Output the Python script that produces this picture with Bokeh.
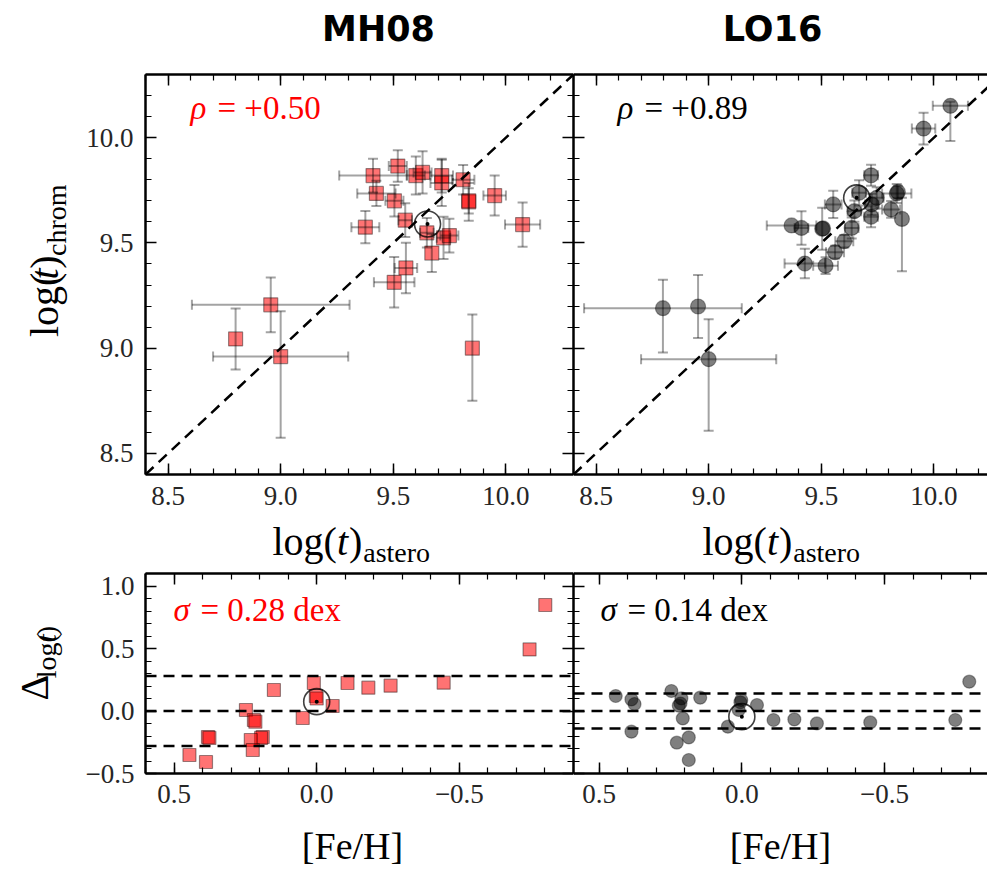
import math
from bokeh.plotting import figure
from bokeh.layouts import column, row
from bokeh.models import (Range1d, LinearAxis, SingleIntervalTicker, Label, Whisker, TeeHead,
                          ColumnDataSource, Slope, Span, CustomJSTickFormatter)
from bokeh.embed import file_html
from bokeh.resources import INLINE

# ---------------- data ----------------
panel_titles = ["MH08", "LO16"]
rho_texts = ["= +0.50", "= +0.89"]
sigma_values = [0.28, 0.14]

# MH08: chromospheric age vs asteroseismic age
mh08_astero = [9.41, 9.52, 9.60, 9.63, 9.715, 9.715, 9.81, 9.425, 9.505, 9.835, 9.835, 9.95,
               9.553, 9.376, 10.074, 9.649, 9.723, 9.749, 9.671, 9.556, 9.504, 8.956, 8.80,
               9.0, 9.851]
mh08_chrom = [9.82, 9.865, 9.82, 9.835, 9.82, 9.785, 9.80, 9.735, 9.70, 9.695, 9.70, 9.725,
              9.608, 9.575, 9.587, 9.548, 9.524, 9.535, 9.452, 9.381, 9.313, 9.206, 9.044,
              8.96, 9.0]
mh08_xerr = [0.15, 0.04, 0.04, 0.04, 0.05, 0.05, 0.05, 0.085, 0.04, 0.0, 0.0, 0.05,
             0.03, 0.062, 0.078, 0.03, 0.03, 0.04, 0.0, 0.05, 0.09, 0.35, 0.0,
             0.30, 0.0]
mh08_yerr_hi = [0.08, 0.075, 0.09, 0.10, 0.08, 0.11, 0.07, 0.06, 0.075, 0.09, 0.06, 0.095,
                0.08, 0.077, 0.105, 0.07, 0.10, 0.08, 0.09, 0.12, 0.12, 0.13, 0.145,
                0.215, 0.16]
mh08_yerr_lo = [0.08, 0.075, 0.09, 0.10, 0.08, 0.11, 0.07, 0.06, 0.075, 0.09, 0.06, 0.095,
                0.08, 0.077, 0.105, 0.07, 0.10, 0.08, 0.09, 0.12, 0.12, 0.13, 0.145,
                0.385, 0.25]

# LO16
lo16_astero = [10.073, 9.954, 9.721, 9.668, 9.746, 9.835, 9.84, 9.553, 9.724, 9.647, 9.810,
               9.858, 9.721, 9.368, 9.412, 9.504, 9.508, 9.635, 9.602, 9.561, 9.427, 9.519,
               8.797, 8.953, 9.0]
lo16_chrom = [10.151, 10.043, 9.821, 9.738, 9.714, 9.735, 9.742, 9.683, 9.683, 9.651, 9.659,
              9.614, 9.624, 9.583, 9.571, 9.567, 9.569, 9.571, 9.508, 9.456, 9.402, 9.392,
              9.190, 9.198, 8.948]
lo16_xerr = [0.078, 0.052, 0.03, 0.03, 0.03, 0.065, 0.0, 0.037, 0.03, 0.03, 0.04,
             0.0, 0.03, 0.11, 0.03, 0.0, 0.0, 0.03, 0.04, 0.04, 0.09, 0.055,
             0.35, 0.0, 0.30]
lo16_yerr_hi = [0.02, 0.075, 0.05, 0.06, 0.05, 0.045, 0.03, 0.065, 0.05, 0.05, 0.04,
                0.10, 0.05, 0.0, 0.08, 0.10, 0.0, 0.05, 0.03, 0.03, 0.07, 0.04,
                0.135, 0.15, 0.19]
lo16_yerr_lo = [0.167, 0.075, 0.05, 0.06, 0.05, 0.045, 0.03, 0.065, 0.05, 0.05, 0.04,
                0.249, 0.05, 0.0, 0.08, 0.10, 0.0, 0.05, 0.03, 0.03, 0.07, 0.04,
                0.21, 0.15, 0.34]

# residuals vs metallicity
mh08_feh = [-0.801, -0.746, -0.445, -0.259, -0.181, -0.108, 0.150, 0.010, 0.003, 0.0, -0.056,
            0.049, 0.248, 0.220, 0.215, 0.189, 0.195, 0.231, 0.224, 0.381, 0.376, 0.388, 0.446]
mh08_delta = [0.848, 0.493, 0.227, 0.203, 0.187, 0.224, 0.168, 0.224, 0.12, 0.10, 0.04,
              -0.056, 0.008, -0.072, -0.085, -0.208, -0.215, -0.232, -0.312, -0.208, -0.215,
              -0.408, -0.352]
lo16_feh = [-0.797, -0.748, -0.450, -0.263, -0.184, -0.111, -0.053, 0.002, 0.005, 0.011, 0.049,
            0.146, 0.247, 0.212, 0.221, 0.215, 0.207, 0.186, 0.228, 0.186, 0.387, 0.387, 0.376,
            0.442]
lo16_delta = [0.235, -0.072, -0.091, -0.099, -0.067, -0.072, 0.048, 0.088, 0.07, 0.008, -0.125,
              0.107, 0.16, 0.101, 0.043, 0.06, -0.059, -0.211, -0.253, -0.392, -0.165, 0.093,
              0.056, 0.12]

# the Sun
sun_astero = [9.652, 9.657]
sun_chrom = [9.59, 9.714]
sun_feh = [0.0, 0.0]
sun_delta = [0.075, -0.045]

# ---------------- styling helpers ----------------
SERIF = "Liberation Serif"
TICK_COLOR = "#262626"
RED = "#ff0000"
R = math.pi / 2
BASE_SHIFT = 0.27   # compensation (in em) so the glyph baseline lands on the requested position
# advance widths (em) of Liberation Serif glyphs used to chain text pieces
ADV = {"log(": 1.611, "t": 0.30, ")": 0.333, "\u0394": 0.612}


def to_data(g, px, py):
    x0, x1 = g["xr"]
    y0, y1 = g["yr"]
    return (x0 + (x1 - x0) * (px - g["fl"]) / g["fw"],
            y0 + (y1 - y0) * (g["fb"] - py) / g["fh"])


def label(p, g, px, py, text, size, color="black", font=SERIF, style="normal",
          align="left", angle=0.0):
    if angle == 0.0:
        py = py - BASE_SHIFT * size
    else:
        px = px - BASE_SHIFT * size
    x, y = to_data(g, px, py)
    p.add_layout(Label(x=x, y=y, text=text, text_font=font, text_font_size=f"{size}px",
                       text_font_style=style, text_color=color, text_align=align,
                       text_baseline="alphabetic", angle=angle))


def make_fig(g, bl, br, bt, bb, sides, labeled_left, label_std):
    p = figure(x_range=Range1d(*g["xr"]), y_range=Range1d(*g["yr"]),
               frame_width=g["fw"], frame_height=g["fh"],
               min_border_left=bl, min_border_right=br, min_border_top=bt, min_border_bottom=bb,
               output_backend="svg", toolbar_location=None,
               x_axis_location=None, y_axis_location=None,
               background_fill_color="white", border_fill_color="white")
    p.outline_line_color = None
    for gr in p.grid:
        gr.visible = False
    for side in sides:
        ax = LinearAxis(ticker=SingleIntervalTicker(interval=0.5, num_minor_ticks=5))
        show = side == "below" or (side == "left" and labeled_left)
        ax.axis_line_color = "black"
        ax.axis_line_width = 2.5
        ax.major_tick_in = 11
        ax.major_tick_out = 0
        ax.minor_tick_in = 6
        ax.minor_tick_out = 0
        ax.major_tick_line_width = 1.5
        ax.minor_tick_line_width = 1.2
        ax.major_tick_line_color = "black"
        ax.minor_tick_line_color = "black"
        if show:
            ax.formatter = CustomJSTickFormatter(
                code="const v = Math.abs(tick) < 1e-9 ? 0 : tick; return v.toFixed(1).replace('-', '\\u2212');")
            ax.major_label_text_font = SERIF
            ax.major_label_text_font_size = "27px"
            ax.major_label_text_color = TICK_COLOR
            ax.major_label_standoff = label_std
        else:
            ax.formatter = CustomJSTickFormatter(code="return '';")
            ax.major_label_text_font_size = "0px"
            ax.major_label_standoff = 0
        p.add_layout(ax, side)
    return p


def strip(w, h, top):
    """A text-only strip; data units are pixels, y measured upwards from its bottom."""
    p = figure(width=w, height=h, x_range=Range1d(0, w), y_range=Range1d(0, h),
               min_border_left=0, min_border_right=0, min_border_top=0, min_border_bottom=0,
               output_backend="svg", toolbar_location=None,
               x_axis_location=None, y_axis_location=None,
               background_fill_color="white", border_fill_color="white")
    p.outline_line_color = None
    for gr in p.grid:
        gr.visible = False
    g = dict(xr=(0, w), yr=(0, h), fw=w, fh=h, fl=0, fb=top + h)
    return p, g


def add_errbars(p, x, y, xerr, yhi, ylo):
    bar = dict(line_color="black", line_alpha=0.36, line_width=2)
    iy = [i for i in range(len(x)) if yhi[i] > 0 or ylo[i] > 0]
    src_y = ColumnDataSource(dict(base=[x[i] for i in iy],
                                  lower=[y[i] - ylo[i] for i in iy],
                                  upper=[y[i] + yhi[i] for i in iy]))
    p.add_layout(Whisker(source=src_y, base="base", lower="lower", upper="upper",
                         dimension="height", level="glyph",
                         upper_head=TeeHead(size=10, **bar), lower_head=TeeHead(size=10, **bar),
                         **bar))
    ix = [i for i in range(len(x)) if xerr[i] > 0]
    src_x = ColumnDataSource(dict(base=[y[i] for i in ix],
                                  lower=[x[i] - xerr[i] for i in ix],
                                  upper=[x[i] + xerr[i] for i in ix]))
    p.add_layout(Whisker(source=src_x, base="base", lower="lower", upper="upper",
                         dimension="width", level="glyph",
                         upper_head=TeeHead(size=10, **bar), lower_head=TeeHead(size=10, **bar),
                         **bar))


def add_sun(p, x, y):
    p.scatter(x=[x], y=[y], marker="circle", size=26, fill_color=None,
              line_color="black", line_width=1.6, line_alpha=0.75)
    p.scatter(x=[x], y=[y], marker="circle", size=4, fill_color="black", line_color=None)


DASH = dict(line_color="black", line_width=2.5, line_dash="11 7")

# ---------------- geometry (page coordinates) ----------------
W_TOTAL = 987
W_YLAB = 75
TOP_T = 70          # title strip height
ROW2_TOP = TOP_T
ROW2_H = 448        # 4 + 400 + 44
XLAB_TOP = ROW2_TOP + ROW2_H   # 518
XLAB_H = 50
ROW4_TOP = XLAB_TOP + XLAB_H   # 568
ROW4_H = 249        # 5 + 200 + 44
FEH_TOP = ROW4_TOP + ROW4_H    # 817
FEH_H = 51

FW_L = 428
FW_R = W_TOTAL - W_YLAB - (145 - W_YLAB) - FW_L   # 414

g_tl = dict(xr=(8.4, 10.3), yr=(8.4, 10.3), fw=FW_L, fh=400, fl=145, fb=474)
g_tr = dict(xr=(8.4, 8.4 + FW_R * 1.9 / FW_L), yr=(8.4, 10.3), fw=FW_R, fh=400, fl=573, fb=474)
g_bl = dict(xr=(0.6, -0.9), yr=(-0.5, 1.1), fw=FW_L, fh=200, fl=145, fb=773)
g_br = dict(xr=(0.59, 0.59 - FW_R * 1.5 / FW_L), yr=(-0.5, 1.1), fw=FW_R, fh=200, fl=573, fb=773)

p_tl = make_fig(g_tl, 145 - W_YLAB, 0, 4, 44, ["below", "left", "above", "right"], True, 12)
p_tr = make_fig(g_tr, 0, 0, 4, 44, ["below", "left", "above"], False, 12)
p_bl = make_fig(g_bl, 145 - W_YLAB, 0, 5, 44, ["below", "left", "above", "right"], True, 11)
p_br = make_fig(g_br, 0, 0, 5, 44, ["below", "left", "above"], False, 11)

s_title, g_title = strip(W_TOTAL, TOP_T, 0)
s_ylab1, g_ylab1 = strip(W_YLAB, ROW2_H, ROW2_TOP)
s_xlab, g_xlab = strip(W_TOTAL, XLAB_H, XLAB_TOP)
s_ylab2, g_ylab2 = strip(W_YLAB, ROW4_H, ROW4_TOP)
s_feh, g_feh = strip(W_TOTAL, FEH_H, FEH_TOP)

# ---------------- top panels ----------------
for p in (p_tl, p_tr):
    p.add_layout(Slope(gradient=1, y_intercept=0, **DASH))

add_errbars(p_tl, mh08_astero, mh08_chrom, mh08_xerr, mh08_yerr_hi, mh08_yerr_lo)
p_tl.scatter(x=mh08_astero, y=mh08_chrom, marker="square", size=14, fill_color=RED,
             fill_alpha=0.55, line_color="black", line_alpha=0.4, line_width=1.2)
add_sun(p_tl, sun_astero[0], sun_chrom[0])

add_errbars(p_tr, lo16_astero, lo16_chrom, lo16_xerr, lo16_yerr_hi, lo16_yerr_lo)
p_tr.scatter(x=lo16_astero, y=lo16_chrom, marker="circle", size=15, fill_color="black",
             fill_alpha=0.5, line_color="black", line_alpha=0.35, line_width=1.2)
add_sun(p_tr, sun_astero[1], sun_chrom[1])

# ---------------- bottom panels ----------------
for p, s in ((p_bl, sigma_values[0]), (p_br, sigma_values[1])):
    for loc in (-s, 0.0, s):
        p.add_layout(Span(location=loc, dimension="width", **DASH))

p_bl.scatter(x=mh08_feh, y=mh08_delta, marker="square", size=13, fill_color=RED,
             fill_alpha=0.55, line_color="black", line_alpha=0.4, line_width=1.2)
add_sun(p_bl, sun_feh[0], sun_delta[0])
p_br.scatter(x=lo16_feh, y=lo16_delta, marker="circle", size=13, fill_color="black",
             fill_alpha=0.5, line_color="black", line_alpha=0.35, line_width=1.2)
add_sun(p_br, sun_feh[1], sun_delta[1])

# ---------------- texts ----------------
TITLE_FONT = "DejaVu Sans"
label(s_title, g_title, 378, 38, panel_titles[0], 35, font=TITLE_FONT, style="bold", align="center")
label(s_title, g_title, 772, 38, panel_titles[1], 35, font=TITLE_FONT, style="bold", align="center")

# rho annotations
label(p_tl, g_tl, 190, 116, "\u03c1", 33, color=RED, style="italic")
label(p_tl, g_tl, 217, 116, rho_texts[0], 33, color=RED)
label(p_tr, g_tr, 617, 116, "\u03c1", 33, color="black", style="italic")
label(p_tr, g_tr, 644, 116, rho_texts[1], 33, color="black")

# sigma annotations
label(p_bl, g_bl, 173, 618, "\u03c3", 33, color=RED, style="italic")
label(p_bl, g_bl, 200, 618, f"= {sigma_values[0]:.2f} dex", 33, color=RED)
label(p_br, g_br, 600, 618, "\u03c3", 33, color="black", style="italic")
label(p_br, g_br, 627, 618, f"= {sigma_values[1]:.2f} dex", 33, color="black")


def logt_h(p, g, x0, base, size, sub=None, sub_size=28, sub_drop=8):
    """Horizontal 'log(t)' (+ optional subscript) starting at x0."""
    x = x0
    label(p, g, x, base, "log(", size)
    x += ADV["log("] * size
    label(p, g, x, base, "t", size, style="italic")
    x += ADV["t"] * size
    label(p, g, x, base, ")", size)
    x += ADV[")"] * size
    if sub:
        label(p, g, x + 1, base + sub_drop, sub, sub_size)


def logt_v(p, g, bx, y0, size, sub=None, sub_size=28, sub_drop=9):
    """Vertical (reading upwards) 'log(t)' (+ optional subscript) starting at page y0."""
    y = y0
    label(p, g, bx, y, "log(", size, angle=R)
    y -= ADV["log("] * size
    label(p, g, bx, y, "t", size, style="italic", angle=R)
    y -= ADV["t"] * size
    label(p, g, bx, y, ")", size, angle=R)
    y -= ADV[")"] * size
    if sub:
        label(p, g, bx + sub_drop, y - 1, sub, sub_size, angle=R)


# x labels
logt_h(s_xlab, g_xlab, 272, 552, 40, sub="astero")
logt_h(s_xlab, g_xlab, 702, 552, 40, sub="astero")

# y label of top row
logt_v(s_ylab1, g_ylab1, 55, 364, 40, sub="chrom")

# y label of bottom row: Delta with subscript log(t)
label(s_ylab2, g_ylab2, 45, 726, "\u0394", 40, angle=R)
logt_v(s_ylab2, g_ylab2, 54, 726 - ADV["\u0394"] * 40 - 3, 28)

# [Fe/H]
label(s_feh, g_feh, 352, 856, "[Fe/H]", 38, align="center")
label(s_feh, g_feh, 780, 856, "[Fe/H]", 38, align="center")

layout = column(s_title,
                row(s_ylab1, p_tl, p_tr),
                s_xlab,
                row(s_ylab2, p_bl, p_br),
                s_feh)

open("out.html", "w").write(file_html(layout, INLINE))
